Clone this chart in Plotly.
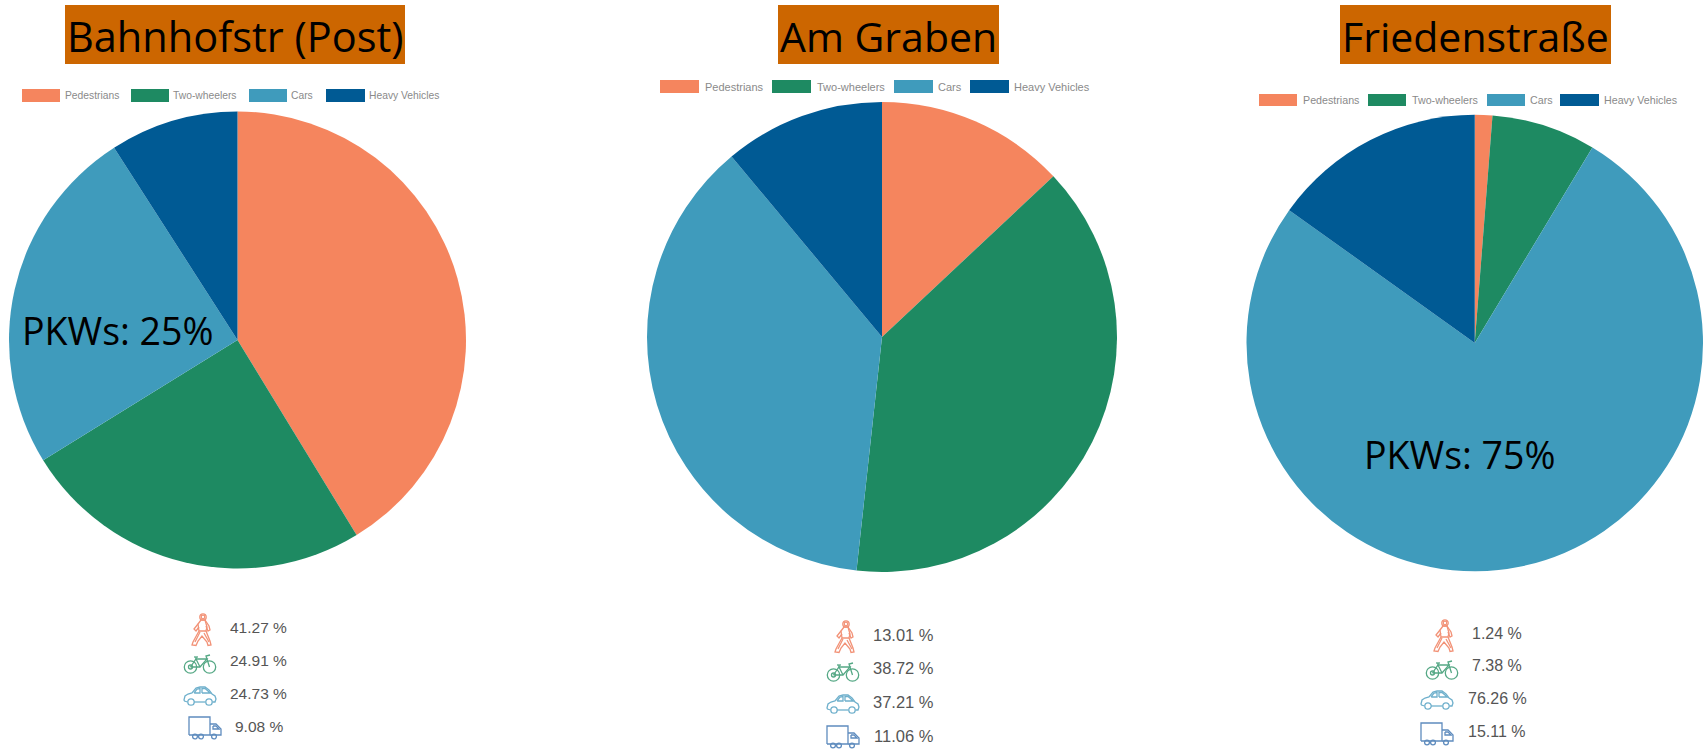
import plotly.graph_objects as go

WIDTH, HEIGHT = 1703, 752

# Modal split per street, in percent
categories = ["Pedestrians", "Two-wheelers", "Cars", "Heavy Vehicles"]
streets = ["Bahnhofstr (Post)", "Am Graben", "Friedenstraße"]
bahnhofstr_values = [41.27, 24.91, 24.73, 9.08]
am_graben_values = [13.01, 38.72, 37.21, 11.06]
friedenstrasse_values = [1.24, 7.38, 76.26, 15.11]
slice_colors = ["#F5855E", "#1E8A62", "#3F9BBC", "#005A94"]
icon_colors = ["#F29277", "#55A885", "#6FB0CC", "#5F8CBE"]
car_callouts = ["PKWs: 25%", None, "PKWs: 75%"]

# Page layout of each panel, in pixels
panels = [
    dict(values=bahnhofstr_values, cx=237.5, cy=340, r=228.5,
         title_box=(65, 5, 405, 64), title_font=41.5,
         swatches=[(22, 60, 64), (131, 169, 172), (249, 287, 290), (326, 365, 368)],
         swatch_y=(89, 102), legend_font=10.3,
         text_cx=[258.5] * 4, text_y=[627.5, 660.5, 693.5, 726.5], value_font=15.5,
         icon_x=[201, 200, 200, 205], icon_y=[630, 663, 696, 728],
         callout=(118, 330)),
    dict(values=am_graben_values, cx=882, cy=337, r=235,
         title_box=(778, 5, 999, 64), title_font=41,
         swatches=[(660, 699, 704), (772, 811, 816), (894, 933, 937), (970, 1009, 1013)],
         swatch_y=(80, 93), legend_font=11,
         text_cx=[904] * 4, text_y=[634.5, 667.5, 701.5, 735.5], value_font=16.5,
         icon_x=[844, 843, 843, 843], icon_y=[637, 671, 704, 737],
         callout=None),
    dict(values=friedenstrasse_values, cx=1475, cy=343, r=228.5,
         title_box=(1340, 5, 1611, 64), title_font=41,
         swatches=[(1259, 1297, 1302), (1368, 1406, 1411), (1487, 1525, 1529), (1560, 1599, 1603)],
         swatch_y=(94, 106), legend_font=10.7,
         text_cx=[1497] * 4, text_y=[633.5, 665.5, 698.5, 731.5], value_font=16,
         icon_x=[1443, 1442, 1437, 1437], icon_y=[636, 669, 700, 734],
         callout=(1460, 454)),
]

# Outline drawings for the four road-user pictograms, in pixels around their centre
pictograms = [
    dict(lines=[
        [(-2, 1), (-3, -6), (0, -10), (4, -10), (6, -3), (5, 1), (-2, 1)],
        [(-3, -6), (-7, -1), (-5, 1), (-2, -3)],
        [(4, -10), (8, -4), (9, 0), (7, 1), (5, -4)],
        [(-2, 1), (-8, 12), (-9, 15), (-5, 15.5), (-3, 11), (1, 6), (6, 12), (7, 15.5),
         (10, 15), (9, 11), (5, 1)],
        [(-1, 2), (-6, 12)],
        [(3, 3), (8, 12)],
    ], rings=[(2, -13, 3.2), (2, -13, 1.8)]),
    dict(lines=[
        [(-9.5, 4), (-4, -4), (7, -4), (0, 4), (-9.5, 4)],
        [(-4, -4), (0, 4)],
        [(9.5, 4), (6, -7), (10, -8)],
        [(-6, -6), (-2, -6)],
        [(-4, -6), (-4, -4)],
    ], rings=[(-9.5, 4, 6.2), (9.5, 4, 6.2), (-9.5, 4, 2)]),
    dict(lines=[
        [(-6, 6), (5.5, 6)],
        [(12.5, 6), (15, 6), (16, 3), (15, 0), (12, -2), (9, -6), (5, -9), (0, -9),
         (-4, -8), (-8, -3), (-12, -2), (-15, 0), (-16, 4), (-15.5, 5), (-12.5, 6)],
        [(-6, -3), (-3, -7), (0, -7.5), (0, -3), (-6, -3)],
        [(2, -3), (2, -7.5), (5, -7.5), (8, -5), (10, -3), (2, -3)],
    ], rings=[(-9, 6, 3.2), (9, 6, 3.2)]),
    dict(lines=[
        [(-16, 7), (-16, -11), (5, -11), (5, 7), (-16, 7)],
        [(5, -4), (11, -4), (16, 1), (16, 7), (5, 7)],
        [(8, -2), (11, -2), (14, 1), (8, 1), (8, -2)],
    ], rings=[(-10, 8.5, 2.4), (-4, 8.5, 2.4), (9, 8.5, 2.4)]),
]


def px(x):
    return x / WIDTH


def py(y):
    return 1 - y / HEIGHT


def polyline(points, ox, oy):
    return "M" + " L".join(f"{px(ox + x):.5f},{py(oy + y):.5f}" for x, y in points)


def text(x, y, content, size, color, family="Liberation Sans", xanchor="center"):
    return dict(x=px(x), y=py(y), xref="paper", yref="paper", text=content, showarrow=False,
                xanchor=xanchor, yanchor="middle", borderpad=0,
                font=dict(family=family, size=size, color=color))


fig = go.Figure()
shapes, annotations = [], []

for panel, street, callout_text in zip(panels, streets, car_callouts):
    cx, cy, r = panel["cx"], panel["cy"], panel["r"]
    fig.add_trace(go.Pie(
        labels=categories, values=panel["values"], name=street, sort=False,
        direction="clockwise", rotation=0, textinfo="none", showlegend=False,
        marker=dict(colors=slice_colors, line=dict(width=0)),
        domain=dict(x=[px(cx - r), min(px(cx + r), 1)], y=[py(cy + r), py(cy - r)]),
    ))

    # Street name on its orange plate
    x0, y0, x1, y1 = panel["title_box"]
    shapes.append(dict(type="rect", xref="paper", yref="paper", x0=px(x0), x1=px(x1),
                       y0=py(y0), y1=py(y1), fillcolor="#CC6600", line=dict(width=0)))
    annotations.append(text((x0 + x1) / 2, (y0 + y1) / 2 + 2, street, panel["title_font"],
                            "#000000", "Open Sans"))

    # Legend row
    top, bottom = panel["swatch_y"]
    for (sx0, sx1, tx), label, color in zip(panel["swatches"], categories, slice_colors):
        shapes.append(dict(type="rect", xref="paper", yref="paper", x0=px(sx0), x1=px(sx1),
                           y0=py(top), y1=py(bottom), fillcolor=color, line=dict(width=0)))
        annotations.append(text(tx, (top + bottom) / 2, label, panel["legend_font"], "#8A8A8A",
                                xanchor="left"))

    # Pictogram and share beneath the pie
    for i, value in enumerate(panel["values"]):
        ox, oy = panel["icon_x"][i], panel["icon_y"][i]
        drawing = pictograms[i]
        for points in drawing["lines"]:
            shapes.append(dict(type="path", xref="paper", yref="paper",
                               path=polyline(points, ox, oy),
                               line=dict(color=icon_colors[i], width=1.3)))
        for rx, ry, rr in drawing["rings"]:
            shapes.append(dict(type="circle", xref="paper", yref="paper",
                               x0=px(ox + rx - rr), x1=px(ox + rx + rr),
                               y0=py(oy + ry + rr), y1=py(oy + ry - rr),
                               line=dict(color=icon_colors[i], width=1.3)))
        annotations.append(text(panel["text_cx"][i], panel["text_y"][i], f"{value:.2f} %",
                                panel["value_font"], "#555555"))

    if callout_text:
        annotations.append(text(*panel["callout"], callout_text, 37.5, "#000000", "Open Sans"))

fig.update_layout(
    width=WIDTH, height=HEIGHT, margin=dict(l=0, r=0, t=0, b=0),
    paper_bgcolor="#FFFFFF", plot_bgcolor="#FFFFFF",
    shapes=shapes, annotations=annotations,
)

fig.write_html("out.html")
